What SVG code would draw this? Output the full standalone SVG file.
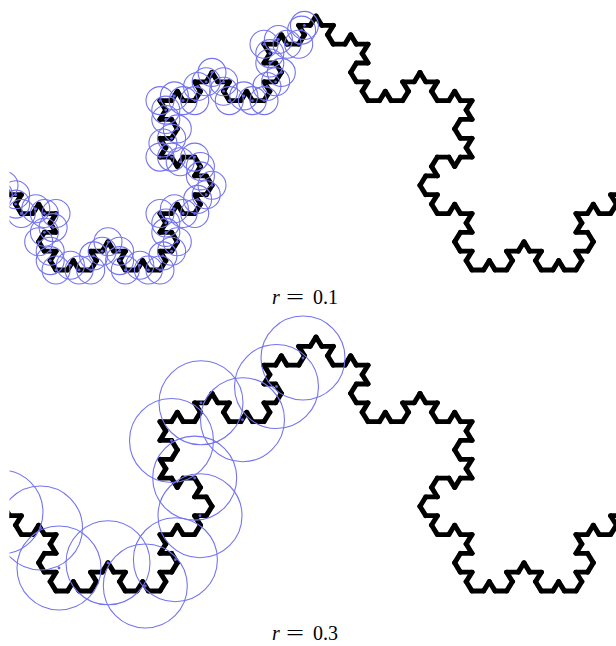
<svg xmlns="http://www.w3.org/2000/svg" xmlns:xlink="http://www.w3.org/1999/xlink" width="616" height="646" viewBox="0 0 616 646">
<style>
.k{fill:none;stroke:#000;stroke-width:0.44;stroke-linecap:round;stroke-linejoin:round}
.c{fill:none;stroke:#7474f0;stroke-width:1.1}
.d{fill:#6262e4}
text{font-family:"Liberation Serif","Times New Roman",serif;font-size:20px;fill:#000}
</style>
<defs>
<path id="k0" class="k" d="M0,0H1"/>
<g id="k1"><use href="#k0" transform="scale(.3333333)"/><use href="#k0" transform="translate(.3333333,0) rotate(-60) scale(.3333333)"/><use href="#k0" transform="translate(.5,-.2886751) rotate(60) scale(.3333333)"/><use href="#k0" transform="translate(.6666667,0) scale(.3333333)"/></g>
<g id="k2"><use href="#k1" transform="scale(.3333333)"/><use href="#k1" transform="translate(.3333333,0) rotate(-60) scale(.3333333)"/><use href="#k1" transform="translate(.5,-.2886751) rotate(60) scale(.3333333)"/><use href="#k1" transform="translate(.6666667,0) scale(.3333333)"/></g>
<g id="k3"><use href="#k2" transform="scale(.3333333)"/><use href="#k2" transform="translate(.3333333,0) rotate(-60) scale(.3333333)"/><use href="#k2" transform="translate(.5,-.2886751) rotate(60) scale(.3333333)"/><use href="#k2" transform="translate(.6666667,0) scale(.3333333)"/></g>
<g id="k4"><use href="#k3" transform="scale(.3333333)"/><use href="#k3" transform="translate(.3333333,0) rotate(-60) scale(.3333333)"/><use href="#k3" transform="translate(.5,-.2886751) rotate(60) scale(.3333333)"/><use href="#k3" transform="translate(.6666667,0) scale(.3333333)"/></g>
<clipPath id="clip"><rect x="9.5" y="0" width="620" height="646"/></clipPath>
<circle id="s" class="c" r="14"/>
<circle id="b" class="c" r="42"/>
<circle id="dot" class="d" r="1.4"/>
</defs>
<g id="top-figure" clip-path="url(#clip)">
<g id="top-curve"><use href="#k4" transform="translate(-152,270) scale(936,880)"/></g>
<g id="top-circles">
<use href="#s" x="-1.7" y="194.7"/><use href="#s" x="4" y="185.3"/><use href="#s" x="15.6" y="194.7"/><use href="#s" x="15.6" y="204.1"/>
<use href="#s" x="21.3" y="213.5"/><use href="#s" x="35.8" y="208.8"/><use href="#s" x="44.4" y="213.5"/>
<use href="#s" x="56" y="213.5"/><use href="#s" x="53.1" y="227.6"/><use href="#s" x="44.4" y="232.3"/>
<use href="#s" x="38.7" y="241.8"/><use href="#s" x="50.2" y="251.2"/><use href="#s" x="50.2" y="260.6"/>
<use href="#s" x="56" y="270"/><use href="#s" x="70.4" y="265.3"/><use href="#s" x="79.1" y="270"/>
<use href="#s" x="90.7" y="270"/><use href="#s" x="93.6" y="255.9"/><use href="#s" x="102.2" y="251.2"/>
<use href="#s" x="108" y="241.8"/><use href="#s" x="119.6" y="251.2"/><use href="#s" x="119.6" y="260.6"/>
<use href="#s" x="125.3" y="270"/><use href="#s" x="139.8" y="265.3"/><use href="#s" x="148.4" y="270"/>
<use href="#s" x="160" y="270"/><use href="#s" x="162.9" y="255.9"/><use href="#s" x="171.6" y="251.2"/>
<use href="#s" x="177.3" y="241.8"/><use href="#s" x="165.8" y="232.4"/><use href="#s" x="165.8" y="223"/>
<use href="#s" x="160" y="213.5"/><use href="#s" x="174.4" y="208.8"/><use href="#s" x="183.1" y="213.5"/>
<use href="#s" x="194.7" y="213.5"/><use href="#s" x="197.6" y="199.4"/><use href="#s" x="206.2" y="194.7"/>
<use href="#s" x="212" y="185.3"/><use href="#s" x="200.4" y="175.9"/><use href="#s" x="200.4" y="166.5"/>
<use href="#s" x="194.7" y="157.1"/><use href="#s" x="180.2" y="161.8"/><use href="#s" x="171.6" y="157.1"/>
<use href="#s" x="160" y="157.1"/><use href="#s" x="162.9" y="143"/><use href="#s" x="171.6" y="138.3"/>
<use href="#s" x="177.3" y="128.9"/><use href="#s" x="165.8" y="119.5"/><use href="#s" x="165.8" y="110.1"/>
<use href="#s" x="160" y="100.6"/><use href="#s" x="174.4" y="95.9"/><use href="#s" x="183.1" y="100.6"/>
<use href="#s" x="194.7" y="100.6"/><use href="#s" x="197.6" y="86.5"/><use href="#s" x="206.2" y="81.8"/>
<use href="#s" x="212" y="72.4"/><use href="#s" x="223.6" y="81.8"/><use href="#s" x="223.6" y="91.2"/>
<use href="#s" x="229.3" y="100.6"/><use href="#s" x="243.8" y="95.9"/><use href="#s" x="252.4" y="100.6"/>
<use href="#s" x="264" y="100.6"/><use href="#s" x="266.9" y="86.5"/><use href="#s" x="275.6" y="81.8"/>
<use href="#s" x="281.3" y="72.4"/><use href="#s" x="269.8" y="63"/><use href="#s" x="269.8" y="53.6"/>
<use href="#s" x="264" y="44.2"/><use href="#s" x="278.4" y="39.5"/><use href="#s" x="287.1" y="44.2"/>
<use href="#s" x="298.7" y="44.2"/><use href="#s" x="301.6" y="30.1"/><use href="#s" x="304.4" y="25.4"/>
</g>
<g id="top-dots">
<use href="#dot" x="-1.7" y="194.7"/><use href="#dot" x="4" y="185.3"/><use href="#dot" x="15.6" y="194.7"/><use href="#dot" x="15.6" y="204.1"/>
<use href="#dot" x="21.3" y="213.5"/><use href="#dot" x="35.8" y="208.8"/><use href="#dot" x="44.4" y="213.5"/>
<use href="#dot" x="56" y="213.5"/><use href="#dot" x="53.1" y="227.6"/><use href="#dot" x="44.4" y="232.3"/>
<use href="#dot" x="38.7" y="241.8"/><use href="#dot" x="50.2" y="251.2"/><use href="#dot" x="50.2" y="260.6"/>
<use href="#dot" x="56" y="270"/><use href="#dot" x="70.4" y="265.3"/><use href="#dot" x="79.1" y="270"/>
<use href="#dot" x="90.7" y="270"/><use href="#dot" x="93.6" y="255.9"/><use href="#dot" x="102.2" y="251.2"/>
<use href="#dot" x="108" y="241.8"/><use href="#dot" x="119.6" y="251.2"/><use href="#dot" x="119.6" y="260.6"/>
<use href="#dot" x="125.3" y="270"/><use href="#dot" x="139.8" y="265.3"/><use href="#dot" x="148.4" y="270"/>
<use href="#dot" x="160" y="270"/><use href="#dot" x="162.9" y="255.9"/><use href="#dot" x="171.6" y="251.2"/>
<use href="#dot" x="177.3" y="241.8"/><use href="#dot" x="165.8" y="232.4"/><use href="#dot" x="165.8" y="223"/>
<use href="#dot" x="160" y="213.5"/><use href="#dot" x="174.4" y="208.8"/><use href="#dot" x="183.1" y="213.5"/>
<use href="#dot" x="194.7" y="213.5"/><use href="#dot" x="197.6" y="199.4"/><use href="#dot" x="206.2" y="194.7"/>
<use href="#dot" x="212" y="185.3"/><use href="#dot" x="200.4" y="175.9"/><use href="#dot" x="200.4" y="166.5"/>
<use href="#dot" x="194.7" y="157.1"/><use href="#dot" x="180.2" y="161.8"/><use href="#dot" x="171.6" y="157.1"/>
<use href="#dot" x="160" y="157.1"/><use href="#dot" x="162.9" y="143"/><use href="#dot" x="171.6" y="138.3"/>
<use href="#dot" x="177.3" y="128.9"/><use href="#dot" x="165.8" y="119.5"/><use href="#dot" x="165.8" y="110.1"/>
<use href="#dot" x="160" y="100.6"/><use href="#dot" x="174.4" y="95.9"/><use href="#dot" x="183.1" y="100.6"/>
<use href="#dot" x="194.7" y="100.6"/><use href="#dot" x="197.6" y="86.5"/><use href="#dot" x="206.2" y="81.8"/>
<use href="#dot" x="212" y="72.4"/><use href="#dot" x="223.6" y="81.8"/><use href="#dot" x="223.6" y="91.2"/>
<use href="#dot" x="229.3" y="100.6"/><use href="#dot" x="243.8" y="95.9"/><use href="#dot" x="252.4" y="100.6"/>
<use href="#dot" x="264" y="100.6"/><use href="#dot" x="266.9" y="86.5"/><use href="#dot" x="275.6" y="81.8"/>
<use href="#dot" x="281.3" y="72.4"/><use href="#dot" x="269.8" y="63"/><use href="#dot" x="269.8" y="53.6"/>
<use href="#dot" x="264" y="44.2"/><use href="#dot" x="278.4" y="39.5"/><use href="#dot" x="287.1" y="44.2"/>
<use href="#dot" x="298.7" y="44.2"/><use href="#dot" x="301.6" y="30.1"/><use href="#dot" x="304.4" y="25.4"/>
</g>
</g>
<g id="bottom-figure" clip-path="url(#clip)">
<g id="bottom-curve"><use href="#k4" transform="translate(-152,591) scale(936,880)"/></g>
<g id="bottom-circles">
<use href="#b" x="1" y="512"/><use href="#b" x="40.5" y="528"/><use href="#b" x="59" y="568"/><use href="#b" x="108" y="562.8"/>
<use href="#b" x="145.3" y="586"/><use href="#b" x="175.4" y="559.7"/><use href="#b" x="200" y="515.7"/><use href="#b" x="194.7" y="478.1"/>
<use href="#b" x="171.5" y="440.5"/><use href="#b" x="201" y="402.8"/><use href="#b" x="242.5" y="419.7"/><use href="#b" x="276.5" y="386.5"/>
<use href="#b" x="303" y="358"/>
</g>
<g id="bottom-dots">
<use href="#dot" x="1" y="512"/><use href="#dot" x="40.5" y="528"/><use href="#dot" x="59" y="568"/><use href="#dot" x="108" y="562.8"/>
<use href="#dot" x="145.3" y="586"/><use href="#dot" x="175.4" y="559.7"/><use href="#dot" x="200" y="515.7"/><use href="#dot" x="194.7" y="478.1"/>
<use href="#dot" x="171.5" y="440.5"/><use href="#dot" x="201" y="402.8"/><use href="#dot" x="242.5" y="419.7"/><use href="#dot" x="276.5" y="386.5"/>
<use href="#dot" x="303" y="358"/>
</g>
</g>
<g id="labels">
<text x="272" y="304" font-style="italic">r</text>
<text transform="translate(286,304) scale(1.6,1)">=</text>
<text x="313" y="304">0.1</text>
<text x="272" y="640" font-style="italic">r</text>
<text transform="translate(286,640) scale(1.6,1)">=</text>
<text x="313" y="640">0.3</text>
</g>
</svg>
